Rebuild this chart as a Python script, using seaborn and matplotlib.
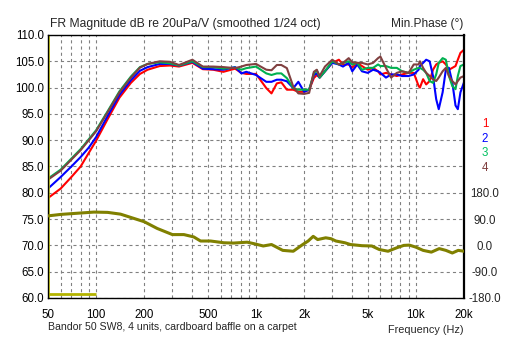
import matplotlib
matplotlib.use("Agg")
import matplotlib.pyplot as plt
import seaborn as sns
import numpy as np
import pandas as pd

# ---------------- data ----------------
freq = [50, 60, 70, 80, 90, 100, 118, 140, 165, 188, 210, 250, 290, 330, 400, 465, 540, 625,
        740, 810, 870, 1000, 1160, 1250, 1350, 1440, 1560, 1710, 1840, 2000, 2150, 2300, 2400,
        2500, 2700, 3000, 3300, 3500, 3800, 4000, 4300, 4600, 5000, 5400, 5800, 6000, 6500,
        7000, 7600, 8200, 9000, 9700, 10400, 10600, 11100, 11600, 12200, 12800, 13400, 13900,
        14700, 15400, 16100, 16900, 17700, 18300, 19000, 20000]

spl_1 = [79.0, 80.8, 83.0, 85.0, 87.6, 89.9, 94.0, 98.1, 100.9, 102.6, 103.4, 104.1, 104.2, 104.0,
         104.7, 103.5, 103.4, 103.0, 103.6, 102.8, 102.6, 102.6, 99.9, 98.9, 100.8, 101.0, 99.6,
         99.6, 99.2, 99.2, 99.6, 101.8, 102.4, 101.9, 103.1, 104.7, 105.3, 104.4, 104.4, 103.8,
         104.7, 104.1, 103.4, 103.75, 103.1, 102.5, 102.8, 102.5, 102.2, 102.5, 102.8, 102.8,
         100.3, 100.0, 101.6, 100.6, 101.25, 103.4, 104.4, 104.7, 105.0, 104.4, 103.4, 103.75,
         104.1, 105.3, 106.6, 107.2]

spl_2 = [80.8, 83.0, 85.0, 86.8, 88.6, 90.6, 94.6, 98.6, 101.4, 103.2, 103.9, 104.5, 104.5, 104.2,
         104.9, 103.6, 103.5, 103.4, 103.9, 102.7, 103.0, 102.4, 101.1, 101.1, 101.5, 101.5, 101.2,
         99.9, 101.1, 99.2, 99.6, 102.4, 102.7, 101.9, 103.1, 104.7, 104.4, 104.0, 104.7, 103.1,
         104.4, 103.1, 102.8, 103.4, 103.1, 102.8, 101.9, 102.5, 102.5, 102.2, 102.2, 102.5,
         103.4, 104.1, 104.7, 105.3, 105.0, 102.2, 97.8, 95.9, 99.1, 103.4, 103.75, 101.0,
         96.6, 95.9, 99.1, 101.0]

spl_3 = [82.7, 84.4, 86.5, 88.3, 90.2, 91.9, 95.5, 99.3, 102.1, 103.9, 104.5, 104.8, 104.6, 104.2,
         105.0, 103.9, 103.9, 103.6, 103.8, 103.4, 103.7, 104.0, 102.7, 102.4, 102.7, 102.7, 101.8,
         99.9, 99.6, 99.6, 99.6, 102.7, 103.3, 101.9, 103.1, 105.0, 104.4, 104.7, 105.0, 104.4,
         104.7, 103.4, 103.75, 103.75, 104.4, 104.1, 104.1, 103.75, 103.75, 103.1, 102.8, 103.4,
         103.75, 103.75, 103.4, 102.8, 101.25, 100.9, 102.5, 104.7, 105.6, 105.3, 102.2, 100.3,
         99.7, 102.2, 104.1, 104.4]

spl_4 = [82.5, 84.2, 86.3, 88.1, 90.0, 91.7, 95.3, 99.1, 101.9, 103.8, 104.5, 105.0, 104.9, 104.3,
         105.3, 104.0, 104.0, 103.9, 103.7, 104.0, 104.3, 104.5, 103.4, 103.3, 104.3, 104.3, 103.7,
         100.2, 98.9, 98.8, 99.0, 103.0, 103.4, 102.2, 104.0, 105.3, 104.4, 104.7, 105.6, 104.8,
         104.7, 104.7, 104.4, 104.7, 105.6, 105.9, 103.75, 101.9, 102.8, 103.1, 102.8, 104.4,
         104.4, 105.0, 103.75, 102.8, 102.2, 101.6, 101.25, 101.9, 103.1, 103.75, 102.2, 101.25,
         100.6, 101.25, 101.9, 102.2]

phase_freq = [50, 60, 76, 97, 118, 142, 173, 200, 241, 300, 354, 408, 450, 520, 630, 725, 880,
              970, 1110, 1250, 1470, 1710, 1960, 2120, 2280, 2430, 2730, 2940, 3160, 3600, 3900,
              4600, 5300, 5900, 6700, 7600, 8400, 9100, 10000, 11100, 12500, 14000, 15400,
              16900, 18400, 20000]
phase = [101, 106, 110, 114, 113, 107, 92, 81, 58, 37, 37, 29, 15, 15, 9, 8, 11, 6, -2, 3, -17,
         -20, 3, 15, 31, 20, 26, 23, 15, 9, 3, -1, -2, -14, -20, -8, 0, 1, -6, -17, -23, -11,
         -17, -26, -17, -20]

series_names = ["1", "2", "3", "4"]
series_colors = ["#ff0000", "#0000ff", "#00b050", "#804040"]
label_colors = ["#ff0000", "#0000ff", "#00c060", "#804040"]

x_major = [50, 100, 200, 500, 1000, 2000, 5000, 10000, 20000]
x_major_labels = ["50", "100", "200", "500", "1k", "2k", "5k", "10k", "20k"]
x_minor = [60, 70, 80, 90, 300, 400, 600, 700, 800, 900, 3000, 4000, 6000, 7000, 8000, 9000]
y_ticks = [60, 65, 70, 75, 80, 85, 90, 95, 100, 105, 110]
phase_ticks = [-180, -90, 0, 90, 180]

title_text = "FR Magnitude dB re 20uPa/V (smoothed 1/24 oct)"
phase_title = "Min.Phase (°)"
note_text = "Bandor 50 SW8, 4 units, cardboard baffle on a carpet"
xlabel_text = "Frequency (Hz)"

# ---------------- plot ----------------
sns.set_style("white")
plt.rcParams["font.family"] = ["Liberation Sans", "DejaVu Sans"]
plt.rcParams["font.size"] = 8.3

fig = plt.figure(figsize=(5.12, 3.4), dpi=100)
ax = fig.add_axes([48 / 512, 1 - 298 / 340, 416 / 512, 263 / 340])

df = pd.DataFrame({"freq": freq, "1": spl_1, "2": spl_2, "3": spl_3, "4": spl_4})
long = df.melt(id_vars="freq", var_name="unit", value_name="spl")
sns.lineplot(data=long, x="freq", y="spl", hue="unit", palette=dict(zip(series_names, series_colors)),
             hue_order=series_names, estimator=None, sort=False, lw=1.5, ax=ax, legend=False, zorder=3)

ax.set_xscale("log")
ax.set_xlim(50, 20000)
ax.set_ylim(60, 110)
ax.set_xticks(x_major)
ax.set_xticklabels(x_major_labels)
ax.set_xticks(x_minor, minor=True)
ax.set_yticks(y_ticks)
ax.set_yticklabels([f"{v:.1f}" for v in y_ticks])
ax.tick_params(axis="both", which="both", length=0, labelsize=8.3, colors="black")
ax.tick_params(axis="x", pad=8)
ax.tick_params(axis="y", pad=3)
ax.grid(True, which="both", axis="both", color="#808080", lw=0.8, linestyle=(0, (2.8, 2.8)))
ax.set_xlabel("")
ax.set_ylabel("")
for s in ax.spines.values():
    s.set_color("black")
    s.set_linewidth(1.0)
    s.set_zorder(5)
ax.spines["right"].set_linewidth(1.6)

# short marker line and thin yellow left edge
ax.hlines(60.7, 50, 100, color="#b4b400", lw=2, zorder=4)
ax.axvline(50.45, color="#d0d000", lw=0.6, zorder=4)

ax2 = ax.twinx()
sns.lineplot(x=phase_freq, y=phase, color="#808000", lw=2.2, estimator=None, sort=False, ax=ax2)
ax2.set_ylim(-180, 720)
ax2.set_yticks(phase_ticks)
ax2.set_yticklabels([f"{v:.1f}" for v in phase_ticks])
ax2.tick_params(axis="y", length=0, pad=15, labelsize=8.3)
for lbl in ax2.get_yticklabels():
    lbl.set_horizontalalignment("center")
ax2.set_ylabel("")
ax2.grid(False)
for s in ax2.spines.values():
    s.set_visible(False)

# labels for series
for i, (nm, c) in enumerate(zip(series_names, label_colors)):
    fig.text(485 / 512, 1 - (124 + 14.7 * i) / 340, nm, color=c, fontsize=8.3, ha="center", va="center")

fig.text(50 / 512, 1 - 24 / 340, title_text, ha="left", va="center", fontsize=8.7)
fig.text(463 / 512, 1 - 24 / 340, phase_title, ha="right", va="center", fontsize=8.6)
fig.text(48 / 512, 1 - 327 / 340, note_text, ha="left", va="center", fontsize=7.6)
fig.text(463 / 512, 1 - 330 / 340, xlabel_text, ha="right", va="center", fontsize=7.8)

fig.savefig("out.png", dpi=100)
